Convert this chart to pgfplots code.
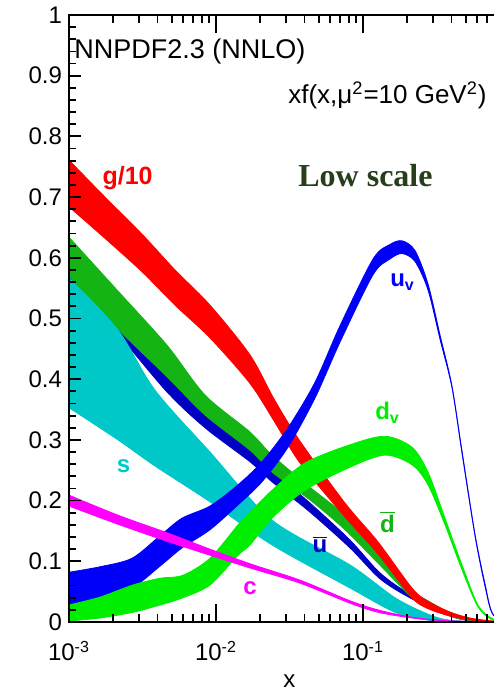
\documentclass[border=0pt]{standalone}
\usepackage{fontspec}
\setmainfont{Liberation Sans}
\newfontfamily\serifface{Liberation Serif}
\usepackage{pgfplots}
\usepackage{pgfplotstable}
\pgfplotsset{compat=1.18}
\usepgfplotslibrary{fillbetween}

\definecolor{cg}{RGB}{255,0,0}
\definecolor{cdbar}{RGB}{20,180,20}
\definecolor{cubar}{RGB}{0,0,195}
\definecolor{cs}{RGB}{0,200,200}
\definecolor{cuv}{RGB}{0,0,250}
\definecolor{cdv}{RGB}{0,238,0}
\definecolor{cc}{RGB}{255,0,255}
\definecolor{clow}{RGB}{38,62,26}

% columns: x  upper  lower
\pgfplotstableread{
x hi lo
0.001    0.761 0.684
0.001758 0.700 0.632
0.003138 0.639 0.577
0.005262 0.580 0.522
0.009104 0.522 0.468
0.01703  0.440 0.393
0.02500  0.366 0.330
0.03727  0.298 0.262
0.07544  0.196 0.173
0.1265   0.132 0.112
0.2154   0.056 0.040
0.2768   0.034 0.022
0.3906   0.0165 0.0099
0.5345   0.0066 0.0033
0.7661   0.0016 0.0
1.0      0.0 0.0
}\gdat

\pgfplotstableread{
x hi lo
0.001    0.634 0.570
0.002121 0.547 0.484
0.004642 0.456 0.404
0.008418 0.374 0.341
0.01703  0.313 0.283
0.02404  0.275 0.247
0.04360  0.222 0.201
0.07544  0.176 0.152
0.1265   0.119 0.097
0.2154   0.053 0.040
0.2768   0.035 0.023
0.4570   0.008 0.005
0.7661   0.001 0.0
1.0      0.0 0.0
}\dbardat

\pgfplotstableread{
x hi lo
0.001    0.575 0.560
0.002121 0.494 0.476
0.004642 0.404 0.379
0.008418 0.344 0.320
0.01703  0.287 0.264
0.02404  0.250 0.231
0.04360  0.196 0.181
0.08158  0.135 0.122
0.1265   0.084 0.074
0.1785   0.056 0.049
0.2768   0.030 0.025
0.4570   0.0066 0.0049
0.7661   0.0005 0.0
1.0      0.0 0.0
}\ubardat

\pgfplotstableread{
x hi lo
0.001    0.567 0.353
0.002154 0.481 0.300
0.003846 0.382 0.257
0.009104 0.280 0.198
0.02404  0.168 0.127
0.08158  0.094 0.056
0.1651   0.040 0.016
0.2768   0.013 0.003
0.3906   0.003 0.0
0.7661   0.0 0.0
1.0      0.0 0.0
}\sdat

\pgfplotstableread{
x hi lo
0.001    0.082 0.028
0.001625 0.091 0.040
0.002683 0.105 0.056
0.004159 0.142 0.092
0.005871 0.171 0.122
0.009104 0.191 0.152
0.01412  0.226 0.193
0.02055  0.264 0.231
0.03089  0.320 0.288
0.04715  0.395 0.369
0.06975  0.488 0.461
0.1170   0.598 0.572
0.1526   0.622 0.598
0.1842   0.628 0.607
0.2258   0.612 0.594
0.2768   0.557 0.547
0.3341   0.473 0.466
0.4030   0.389 0.386
0.4715   0.282 0.278
0.5779   0.145 0.142
0.6760   0.063 0.059
0.7661   0.013 0.012
1.0      0.0 0.0
}\uvdat

\pgfplotstableread{
x hi lo
0.001    0.028 0.0016
0.001625 0.041 0.0066
0.002725 0.061 0.016
0.004159 0.072 0.028
0.005964 0.077 0.040
0.009104 0.105 0.061
0.01412  0.160 0.110
0.01703  0.181 0.127
0.02404  0.217 0.171
0.04030  0.262 0.217
0.08158  0.292 0.255
0.1412   0.306 0.275
0.2154   0.288 0.259
0.2768   0.247 0.226
0.3613   0.171 0.160
0.4715   0.094 0.086
0.6057   0.028 0.025
0.7661   0.005 0.003
1.0      0.0 0.0
}\dvdat

\pgfplotstableread{
x hi lo
0.001    0.209 0.191
0.002154 0.176 0.161
0.004642 0.147 0.133
0.009104 0.120 0.110
0.01703  0.096 0.089
0.03727  0.069 0.064
0.08158  0.035 0.031
0.1265   0.020 0.016
0.2154   0.008 0.0066
0.3613   0.0025 0.0016
0.7661   0.0 0.0
1.0      0.0 0.0
}\cdat

\newcommand{\band}[3]{%
  \addplot[draw=none, smooth, name path=#1A] table[x=x,y=hi]{#2};
  \addplot[draw=none, smooth, name path=#1B] table[x=x,y=lo]{#2};
  \addplot[fill=#3, draw=#3, line width=0.4pt] fill between[of=#1A and #1B];
}

\begin{document}
\begin{tikzpicture}
\begin{axis}[
  at={(0,0)}, anchor=south west,
  scale only axis, width=220.5pt, height=303.5pt,
  xmode=log, xmin=0.001, xmax=1, ymin=0, ymax=1,
  axis on top,
  axis line style={line width=1pt},
  major tick length=6pt, minor tick length=3.5pt,
  every tick/.style={black, line width=0.9pt},
  xtick={0.001,0.01,0.1,1},
  xticklabels={10\textsuperscript{-3},10\textsuperscript{-2},10\textsuperscript{-1},},
  ytick={0,0.1,0.2,0.3,0.4,0.5,0.6,0.7,0.8,0.9,1},
  yticklabels={0,0.1,0.2,0.3,0.4,0.5,0.6,0.7,0.8,0.9,1},
  minor y tick num=4,
  ticklabel style={font=\fontsize{12}{14}\selectfont},
  xticklabel style={yshift=-6pt},
  xlabel={x},
  xlabel style={font=\fontsize{12}{14}\selectfont, at={(rel axis cs:0.5,0)}, anchor=center, yshift=-29.75pt},
]
\band{ub}{\ubardat}{cubar}
\band{db}{\dbardat}{cdbar}
\band{gg}{\gdat}{cg}
\band{ss}{\sdat}{cs}
\band{uv}{\uvdat}{cuv}
\band{dv}{\dvdat}{cdv}
\band{cc}{\cdat}{cc}

% x-axis tick marks (bottom and top), drawn wholly inside the axis box
\addplot[only marks, mark=|, mark size=2pt, mark options={black, line width=0.9pt}, forget plot] coordinates {
(0.002,0.0066) (0.003,0.0066) (0.004,0.0066) (0.005,0.0066) (0.006,0.0066) (0.007,0.0066) (0.008,0.0066) (0.009,0.0066)
(0.02,0.0066) (0.03,0.0066) (0.04,0.0066) (0.05,0.0066) (0.06,0.0066) (0.07,0.0066) (0.08,0.0066) (0.09,0.0066)
(0.2,0.0066) (0.3,0.0066) (0.4,0.0066) (0.5,0.0066) (0.6,0.0066) (0.7,0.0066) (0.8,0.0066) (0.9,0.0066)
(0.002,0.9934) (0.003,0.9934) (0.004,0.9934) (0.005,0.9934) (0.006,0.9934) (0.007,0.9934) (0.008,0.9934) (0.009,0.9934)
(0.02,0.9934) (0.03,0.9934) (0.04,0.9934) (0.05,0.9934) (0.06,0.9934) (0.07,0.9934) (0.08,0.9934) (0.09,0.9934)
(0.2,0.9934) (0.3,0.9934) (0.4,0.9934) (0.5,0.9934) (0.6,0.9934) (0.7,0.9934) (0.8,0.9934) (0.9,0.9934)
};
\addplot[only marks, mark=|, mark size=4.5pt, mark options={black, line width=0.9pt}, forget plot] coordinates {
(0.01,0.0148) (0.1,0.0148) (0.01,0.9852) (0.1,0.9852)
};

\node[anchor=base west, inner sep=0pt, xshift=2.5pt, font=\fontsize{13.5}{16}\selectfont] at (axis cs:0.001,0.929) {NNPDF2.3 (NNLO)};
\node[anchor=base east, inner sep=0pt, font=\fontsize{13}{16}\selectfont] at (axis cs:0.698,0.855) {xf(x,μ\textsuperscript{2}=10 GeV\textsuperscript{2})};
\node[anchor=base, inner sep=0pt, text=clow, font=\serifface\bfseries\fontsize{16}{19}\selectfont] at (axis cs:0.1040,0.717) {Low scale};
\node[anchor=base, inner sep=0pt, text=cg, font=\bfseries\fontsize{12.5}{15}\selectfont] at (axis cs:0.002503,0.720) {g/10};
\node[anchor=base, inner sep=0pt, text=cuv, font=\bfseries\fontsize{12}{14}\selectfont] at (axis cs:0.1858,0.552) {u\textsubscript{v}};
\node[anchor=base, inner sep=0pt, text=cdv, font=\bfseries\fontsize{12}{14}\selectfont] at (axis cs:0.1469,0.333) {d\textsubscript{v}};
\node[anchor=base, inner sep=0pt, text=cdbar, font=\bfseries\fontsize{12}{14}\selectfont] at (axis cs:0.1469,0.148) {$\overline{\mbox{d}}$};
\node[anchor=base, inner sep=0pt, text=cubar, font=\bfseries\fontsize{12}{14}\selectfont] at (axis cs:0.05099,0.114) {$\overline{\mbox{u}}$};
\node[anchor=base, inner sep=0pt, text=cs, font=\bfseries\fontsize{12}{14}\selectfont] at (axis cs:0.002350,0.2455) {s};
\node[anchor=base, inner sep=0pt, text=cc, font=\bfseries\fontsize{12}{14}\selectfont] at (axis cs:0.01703,0.0445) {c};
\end{axis}
\pgfresetboundingbox
\useasboundingbox (-34.5pt,-34.5pt) rectangle (212pt,311pt);
\end{tikzpicture}
\end{document}
